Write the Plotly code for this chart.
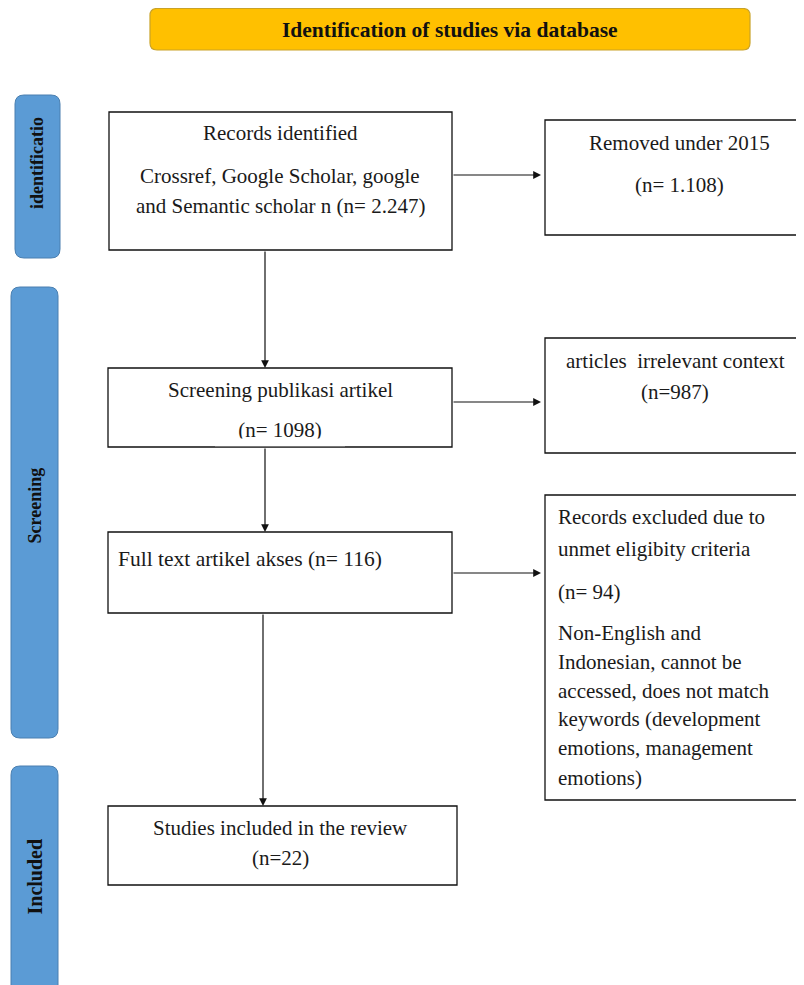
import plotly.graph_objects as go

W, H = 804, 985
OFF = 8  # page body margin compensation

header_title = "Identification of studies via database"
stage_labels = ["identificatio", "Screening", "Included"]

records_title = "Records identified"
records_sources = ["Crossref, Google Scholar, google", "and Semantic scholar n (n= 2.247)"]
removed_title = "Removed under 2015"
removed_n = "1.108"
screen_title = "Screening publikasi artikel"
screen_n = "1098"
irrelevant_title = "articles  irrelevant context"
irrelevant_n = "987"
fulltext_title = "Full text artikel akses"
fulltext_n = "116"
excluded_title = ["Records excluded due to", "unmet eligibity criteria"]
excluded_n = "94"
excluded_reasons = ["Non-English and", "Indonesian, cannot be", "accessed, does not match",
                    "keywords (development", "emotions, management", "emotions)"]
included_title = "Studies included in the review"
included_n = "22"

SERIF = "Liberation Serif, Times New Roman, serif"
BODY = 21

fig = go.Figure()
shapes = []
ann = []


def rrect(x0, y0, x1, y1, r, fill, line, lw=1):
    p = (f"M {x0+r},{y0} L {x1-r},{y0} Q {x1},{y0} {x1},{y0+r} "
         f"L {x1},{y1-r} Q {x1},{y1} {x1-r},{y1} L {x0+r},{y1} "
         f"Q {x0},{y1} {x0},{y1-r} L {x0},{y0+r} Q {x0},{y0} {x0+r},{y0} Z")
    shapes.append(dict(type="path", path=p, xref="x", yref="y", fillcolor=fill,
                       line=dict(color=line, width=lw), layer="below"))


def box(x0, y0, x1, y1):
    shapes.append(dict(type="rect", x0=x0, y0=y0, x1=x1, y1=y1, xref="x", yref="y",
                       fillcolor="white", line=dict(color="#111111", width=1.3), layer="below"))


def text(x, y, s, size=BODY, anchor="center", bold=False, angle=0, color="#1a1a1a"):
    if bold:
        s = f"<b>{s}</b>"
    ann.append(dict(x=x, y=y, xref="x", yref="y", text=s, showarrow=False,
                    xanchor=anchor, yanchor="middle", textangle=angle,
                    font=dict(family=SERIF, size=size, color=color)))


def arrow(x0, y0, x1, y1):
    ann.append(dict(x=x1, y=y1, ax=x0, ay=y0, xref="x", yref="y", axref="x", ayref="y",
                    text="", showarrow=True, arrowhead=2, arrowsize=1.3, arrowwidth=1.2,
                    arrowcolor="#111111", standoff=0, startstandoff=0))


# header
rrect(150, 8.5, 750, 50, 7, "#FFC000", "#C9A227", 1.2)
text(450, 30, header_title, size=21.5, bold=True, color="#111111")

# stage side bars
rrect(15, 95, 60, 258, 9, "#5B9BD5", "#4A7FB0", 1)
text(37, 163, stage_labels[0], size=18, bold=True, angle=-90, color="#111111")
rrect(11, 287, 58, 738, 9, "#5B9BD5", "#4A7FB0", 1)
text(34.5, 506, stage_labels[1], size=18, bold=True, angle=-90, color="#111111")
rrect(11, 766, 58, 1010, 9, "#5B9BD5", "#4A7FB0", 1)
text(34.5, 877, stage_labels[2], size=20, bold=True, angle=-90, color="#111111")

# boxes
box(109, 112, 452, 250)
text(280, 133, records_title)
text(280, 176, records_sources[0])
text(280, 206, records_sources[1])

box(545, 120, 820, 235)
text(679, 143, removed_title)
text(679, 185, f"(n= {removed_n})")

box(108, 368, 452, 447)
text(280, 390, screen_title)
# drawn as a trace so the white strip below can clip its lower half, as in the source
fig.add_trace(go.Scatter(x=[280], y=[432], mode="text", text=[f"(n= {screen_n})"],
                         textposition="middle center", hoverinfo="skip",
                         textfont=dict(family=SERIF, size=BODY, color="#1a1a1a")))

box(545, 338, 820, 453)
text(675, 361, irrelevant_title)
text(675, 392, f"(n={irrelevant_n})")

box(108, 532, 452, 613)
text(116, 559, f"{fulltext_title} (n= {fulltext_n})", size=21.5, anchor="left")

box(545, 495, 820, 800)
ey = [517, 549]
for y, s in zip(ey, excluded_title):
    text(556, y, s, anchor="left")
text(556, 592, f"(n= {excluded_n})", anchor="left")
ry = [633, 662, 691, 719, 748, 778]
for y, s in zip(ry, excluded_reasons):
    text(556, y, s, anchor="left")

box(108, 806, 457, 885)
text(280, 828, included_title)
text(280, 858, f"(n={included_n})")

# arrows
arrow(452, 175, 541, 175)
arrow(265, 250, 265, 368)
arrow(452, 402, 541, 402)
arrow(265, 447, 265, 532)
arrow(452, 573, 541, 573)
arrow(263, 613, 263, 806)

# white strip hiding the lower part of the screening count
shapes.append(dict(type="rect", x0=215, y0=438.5, x1=345, y1=446.2, xref="x", yref="y",
                   fillcolor="white", line=dict(width=0), layer="above"))

fig.update_layout(
    width=W, height=H, margin=dict(l=0, r=0, t=0, b=0),
    paper_bgcolor="white", plot_bgcolor="white",
    xaxis=dict(range=[OFF, W + OFF], visible=False, fixedrange=True),
    yaxis=dict(range=[H + OFF, OFF], visible=False, fixedrange=True),
    shapes=shapes, annotations=ann, showlegend=False,
)

fig.write_html("out.html")
